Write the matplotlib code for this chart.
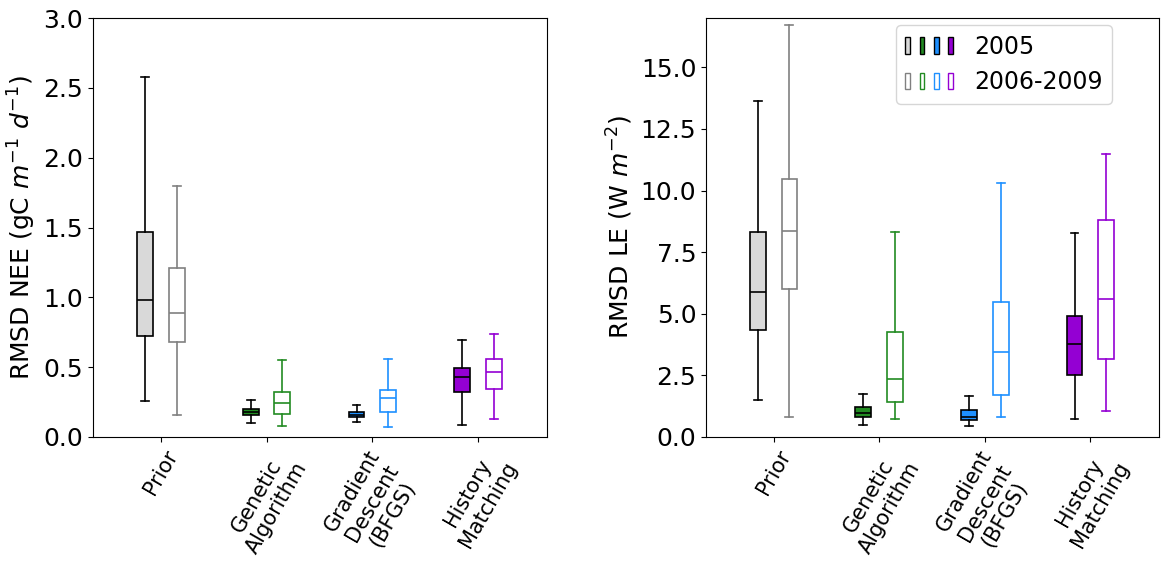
import matplotlib.pyplot as plt
from matplotlib.patches import Patch
from matplotlib.legend_handler import HandlerTuple

methods = ["Prior", "Genetic\nAlgorithm", "Gradient\nDescent\n(BFGS)", "History\nMatching"]
colors = ["#d9d9d9", "forestgreen", "dodgerblue", "darkviolet"]
edge_2006 = ["gray", "forestgreen", "dodgerblue", "darkviolet"]

# box stats: [whislo, q1, med, q3, whishi]
nee_2005 = [[0.26, 0.72, 0.98, 1.47, 2.58],
            [0.10, 0.157, 0.179, 0.198, 0.265],
            [0.105, 0.143, 0.16, 0.176, 0.226],
            [0.086, 0.32, 0.429, 0.492, 0.692]]
nee_2006 = [[0.155, 0.68, 0.89, 1.21, 1.80],
            [0.079, 0.165, 0.241, 0.324, 0.551],
            [0.072, 0.176, 0.279, 0.334, 0.558],
            [0.127, 0.341, 0.463, 0.556, 0.735]]
le_2005 = [[1.49, 4.33, 5.88, 8.31, 13.63],
           [0.47, 0.80, 0.99, 1.20, 1.73],
           [0.43, 0.67, 0.81, 1.08, 1.65],
           [0.72, 2.53, 3.76, 4.89, 8.27]]
le_2006 = [[0.81, 5.99, 8.35, 10.46, 16.7],
           [0.72, 1.44, 2.35, 4.24, 8.31],
           [0.81, 1.69, 3.45, 5.46, 10.3],
           [1.04, 3.15, 5.58, 8.80, 11.47]]


def stats(rows):
    return [dict(whislo=r[0], q1=r[1], med=r[2], q3=r[3], whishi=r[4], fliers=[]) for r in rows]


def draw(ax, d05, d06):
    s05 = stats(d05)
    s06 = stats(d06)
    for i in range(4):
        ax.bxp([s05[i]], positions=[i - 0.15], widths=0.15, patch_artist=True,
               boxprops=dict(facecolor=colors[i], edgecolor="black", linewidth=1.2),
               medianprops=dict(color="black", linewidth=1.2),
               whiskerprops=dict(color="black", linewidth=1.2),
               capprops=dict(color="black", linewidth=1.2), manage_ticks=False)
        c = edge_2006[i]
        ax.bxp([s06[i]], positions=[i + 0.15], widths=0.15, patch_artist=True,
               boxprops=dict(facecolor="white", edgecolor=c, linewidth=1.2),
               medianprops=dict(color=c, linewidth=1.2),
               whiskerprops=dict(color=c, linewidth=1.2),
               capprops=dict(color=c, linewidth=1.2), manage_ticks=False)
    ax.set_xticks(range(4))
    ax.set_xticklabels(methods, rotation=60, fontsize=15)
    ax.set_xlim(-0.64, 3.65)
    ax.tick_params(axis="y", labelsize=18)


fig = plt.figure(figsize=(11.71, 5.65), dpi=100)
ax1 = fig.add_axes([93 / 1171, 1 - 437 / 565, 454 / 1171, 419 / 565])
ax2 = fig.add_axes([706 / 1171, 1 - 437 / 565, 453 / 1171, 419 / 565])

draw(ax1, nee_2005, nee_2006)
ax1.set_ylim(0, 3.0)
ax1.set_yticks([0, 0.5, 1.0, 1.5, 2.0, 2.5, 3.0])
ax1.set_ylabel("RMSD NEE (gC $m^{-1}$ $d^{-1}$)", fontsize=18)

draw(ax2, le_2005, le_2006)
ax2.set_ylim(0, 17)
ax2.set_yticks([0, 2.5, 5.0, 7.5, 10.0, 12.5, 15.0])
ax2.set_ylabel("RMSD LE (W $m^{-2}$)", fontsize=18)

h05 = tuple(Patch(facecolor=colors[i], edgecolor="black") for i in range(4))
h06 = tuple(Patch(facecolor="white", edgecolor=edge_2006[i]) for i in range(4))
ax2.legend([h05, h06], ["2005", "2006-2009"], fontsize=17, loc="upper right",
           bbox_to_anchor=(0.896, 0.983), borderaxespad=0, handlelength=2.0,
           handletextpad=0.9,
           handler_map={tuple: HandlerTuple(ndivide=None, pad=0.4)})

plt.savefig("out.png", dpi=100)
